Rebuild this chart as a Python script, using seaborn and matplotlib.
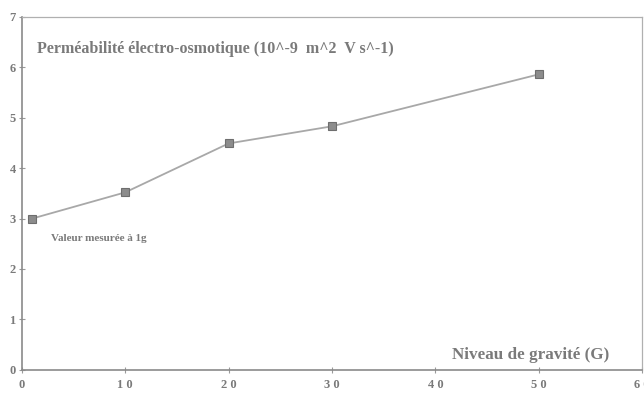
import pandas as pd
import seaborn as sns
import matplotlib.pyplot as plt

# Data
gravite = [1, 10, 20, 30, 50]
permeabilite = [3.0, 3.52, 4.49, 4.83, 5.86]
x_ticks = [0, 10, 20, 30, 40, 50, 60]
x_labels = ['0', '1 0', '2 0', '3 0', '4 0', '5 0', '6 0']
y_ticks = [0, 1, 2, 3, 4, 5, 6, 7]

df = pd.DataFrame({'gravite': gravite, 'permeabilite': permeabilite})

sns.set_style('white')
plt.rcParams['font.family'] = ['Liberation Serif', 'DejaVu Serif']
plt.rcParams['font.weight'] = 'bold'

grey = '#7a7a7a'

fig = plt.figure(figsize=(6.44, 3.93), dpi=100)
ax = fig.add_axes([0.034, 0.059, 0.963, 0.898])

sns.lineplot(data=df, x='gravite', y='permeabilite', ax=ax, color='#a8a8a8',
             linewidth=1.3, marker='s', markersize=6, markerfacecolor='#8c8c8c',
             markeredgecolor='#6e6e6e', markeredgewidth=0.8)

ax.set_xlim(0, 60)
ax.set_ylim(0, 7)
ax.set_xticks(x_ticks)
ax.set_xticklabels(x_labels)
ax.set_yticks(y_ticks)
ax.set_xlabel('')
ax.set_ylabel('')
ax.tick_params(axis='both', which='both', length=3, width=0.8, color='#9a9a9a',
               labelsize=9, labelcolor=grey, pad=4)
ax.tick_params(axis='x', direction='inout', length=5)
ax.tick_params(axis='y', direction='inout', length=5, pad=2)
ax.xaxis.set_ticks_position('bottom')
ax.yaxis.set_ticks_position('left')

for side in ['left', 'bottom']:
    ax.spines[side].set_color('#8a8a8a')
    ax.spines[side].set_linewidth(1.2)
for side in ['top', 'right']:
    ax.spines[side].set_color('#b0b0b0')
    ax.spines[side].set_linewidth(0.9)

ax.text(1.5, 6.36, 'Perméabilité électro-osmotique (10^-9  m^2  V s^-1)',
        fontsize=11.5, color=grey, va='center', ha='left', fontweight='bold')
ax.text(2.8, 2.6, 'Valeur mesurée à 1g', fontsize=8, color=grey,
        va='center', ha='left', fontweight='bold')
ax.text(56.8, 0.3, 'Niveau de gravité (G)', fontsize=12.3, color=grey,
        va='center', ha='right', fontweight='bold')

fig.savefig('out.png', dpi=100)
